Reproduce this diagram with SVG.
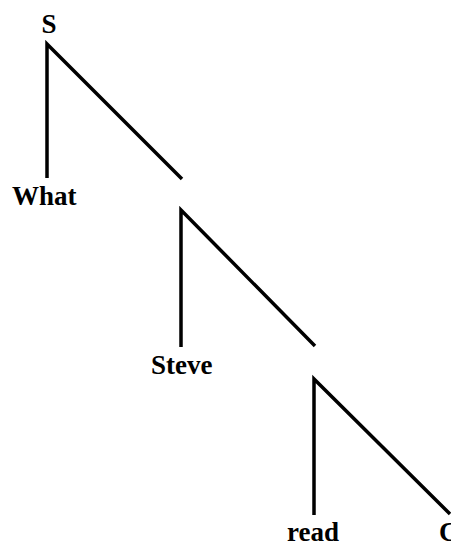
<svg xmlns="http://www.w3.org/2000/svg" width="451" height="546" viewBox="0 0 451 546">
<style>
.lbl{font-family:"Liberation Serif","Times New Roman",serif;font-weight:bold;font-size:27px;fill:#000}
.br{fill:none;stroke:#000;stroke-width:3.5;stroke-linejoin:miter;stroke-linecap:butt}
</style>
<rect width="451" height="546" fill="#fff"/>
<g id="connectors">
<polyline class="br" points="47,178 47,44 182,179"/>
<polyline class="br" points="181,347 181,210 315,346"/>
<polyline class="br" points="314,515 314,379 450,514"/>
</g>
<g id="node-S"><text class="lbl" x="49" y="33" text-anchor="middle">S</text></g>
<g id="node-What"><text class="lbl" x="12" y="205">What</text></g>
<g id="node-Steve"><text class="lbl" x="151" y="374">Steve</text></g>
<g id="node-read"><text class="lbl" x="287" y="541">read</text></g>
<g id="node-C"><text class="lbl" x="439" y="541">C</text></g>
</svg>
